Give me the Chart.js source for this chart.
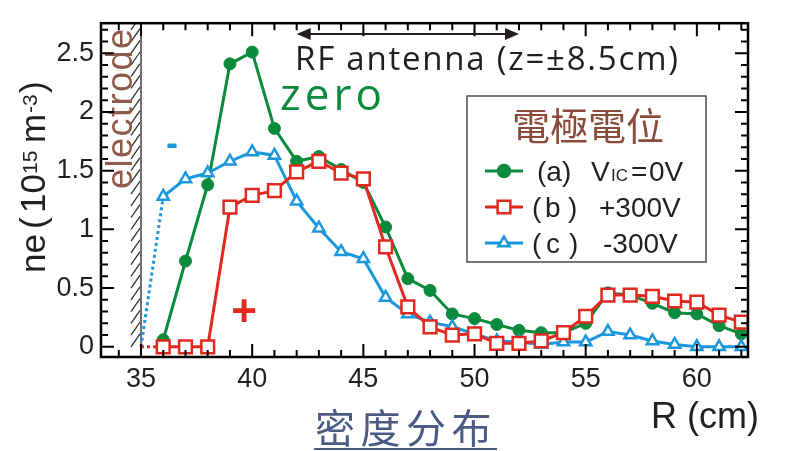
<!DOCTYPE html>
<html>
<head>
<meta charset="utf-8">
<script src="https://cdn.jsdelivr.net/npm/chart.js@4.4.0/dist/chart.umd.min.js"></script>
<style>
  html, body { margin: 0; padding: 0; background: #ffffff; }
  #wrap { width: 791px; height: 451px; position: relative; }
</style>
</head>
<body>
<div id="wrap"><canvas id="c" width="791" height="451"></canvas></div>
<script>
// ---- data ----
const R = [36,37,38,39,40,41,42,43,44,45,46,47,48,49,50,51,52,53,54,55,56,57,58,59,60,61,62];
const neA = [0.06,0.73,1.38,2.41,2.51,1.86,1.58,1.62,1.51,1.40,1.02,0.58,0.48,0.28,0.24,0.19,0.14,0.12,0.12,0.20,0.46,0.44,0.37,0.29,0.28,0.18,0.11];
const neB = [0,0,0,1.19,1.29,1.33,1.49,1.58,1.48,1.43,0.85,0.34,0.17,0.10,0.11,0.03,0.03,0.05,0.12,0.26,0.44,0.44,0.43,0.39,0.38,0.27,0.21];
const neC = [1.28,1.43,1.48,1.58,1.66,1.63,1.24,1.01,0.81,0.75,0.42,0.28,0.21,0.17,0.11,0.05,0.04,0.02,0.04,0.04,0.13,0.10,0.05,0.02,0.0,0.0,0.0];
// dotted links from the electrode (R = 35) to the first measured point
const electrodeR = 35;
const linkB = [[35, 0], [36, 0]];
const linkC = [[35, 0], [36, 1.28]];
const xTickVals = [35, 40, 45, 50, 55, 60];
const yTickVals = [0, 0.5, 1, 1.5, 2, 2.5];
const yTickLabels = ['0', '0.5', '1', '1.5', '2', '2.5'];
const antennaRange = [42, 52];

const GREEN = '#0A8A3C', RED = '#E1291F', BLUE = '#1B97DB';
const TXT = '#231F20';

const toPts = (xs, ys) => xs.map((x, i) => ({x: x, y: ys[i]}));
const pairPts = arr => arr.map(p => ({x: p[0], y: p[1]}));

const legendItems = [
  {color: GREEN, style: 'circle', radius: 6, fill: GREEN},
  {color: RED, style: 'rect', radius: 9, fill: '#ffffff'},
  {color: BLUE, style: 'triangle', radius: 6.5, fill: '#ffffff'}
];

function spacedText(ctx, text, x, y, targetW) {
  const chars = Array.from(text);
  let total = 0;
  const ws = chars.map(c => { const w = ctx.measureText(c).width; total += w; return w; });
  const gap = chars.length > 1 ? (targetW - total) / (chars.length - 1) : 0;
  let cx = x;
  chars.forEach((c, i) => { ctx.fillText(c, cx, y); cx += ws[i] + gap; });
}

const deco = {
  id: 'deco',
  beforeDatasetsDraw(chart) {
    const {ctx, chartArea: a, scales: {x, y}} = chart;
    const ex = x.getPixelForValue(electrodeR);
    ctx.save();
    ctx.beginPath();
    ctx.rect(a.left, a.top, a.right - a.left, a.bottom - a.top);
    ctx.clip();
    // hatching left of the electrode
    ctx.strokeStyle = '#333333';
    ctx.lineWidth = 1.3;
    for (let k = 0; k <= 28; k++) {
      const py = y.getPixelForValue(k / 10);
      ctx.beginPath();
      ctx.moveTo(ex - 1, py - 13);
      ctx.lineTo(ex - 10, py);
      ctx.stroke();
    }
    // electrode surface
    ctx.strokeStyle = '#707070';
    ctx.lineWidth = 2;
    ctx.beginPath();
    ctx.moveTo(ex, a.top);
    ctx.lineTo(ex, a.bottom);
    ctx.stroke();
    ctx.restore();

    // "electrode" label
    ctx.save();
    ctx.fillStyle = '#8E5A4B';
    ctx.font = '36px "Liberation Sans", Arial, sans-serif';
    ctx.textBaseline = 'alphabetic';
    ctx.translate(132, 189);
    ctx.rotate(-Math.PI / 2);
    spacedText(ctx, 'electrode', 0, 0, 160);
    ctx.restore();
  },
  afterDraw(chart) {
    const {ctx, chartArea: a, scales: {x, y}} = chart;
    ctx.save();
    // frame
    ctx.strokeStyle = '#000000';
    ctx.lineWidth = 2.5;
    ctx.strokeRect(a.left, a.top, a.right - a.left, a.bottom - a.top);
    // inward ticks
    ctx.lineWidth = 2;
    for (let i = Math.ceil(x.min); i <= Math.floor(x.max); i++) {
      const px = x.getPixelForValue(i);
      const len = i % 5 === 0 ? 13 : 7;
      ctx.beginPath();
      ctx.moveTo(px, a.bottom); ctx.lineTo(px, a.bottom - len);
      ctx.moveTo(px, a.top); ctx.lineTo(px, a.top + len);
      ctx.stroke();
    }
    for (let k = 0; k <= Math.floor(y.max * 10 + 1e-6); k++) {
      const py = y.getPixelForValue(k / 10);
      const len = k % 5 === 0 ? 13 : 7;
      ctx.beginPath();
      ctx.moveTo(a.left, py); ctx.lineTo(a.left + len, py);
      ctx.moveTo(a.right, py); ctx.lineTo(a.right - len, py);
      ctx.stroke();
    }

    // RF antenna arrow
    const ax1 = x.getPixelForValue(antennaRange[0]);
    const ax2 = x.getPixelForValue(antennaRange[1]);
    const ay = 34;
    ctx.strokeStyle = TXT; ctx.fillStyle = TXT;
    ctx.lineWidth = 2;
    ctx.beginPath(); ctx.moveTo(ax1 + 8, ay); ctx.lineTo(ax2 - 8, ay); ctx.stroke();
    ctx.beginPath(); ctx.moveTo(ax1, ay); ctx.lineTo(ax1 + 14, ay - 6); ctx.lineTo(ax1 + 14, ay + 6); ctx.closePath(); ctx.fill();
    ctx.beginPath(); ctx.moveTo(ax2, ay); ctx.lineTo(ax2 - 14, ay - 6); ctx.lineTo(ax2 - 14, ay + 6); ctx.closePath(); ctx.fill();

    ctx.textAlign = 'left';
    ctx.textBaseline = 'alphabetic';
    ctx.font = '33px "Open Sans", "Noto Sans", sans-serif';
    spacedText(ctx, 'RF antenna (z=±8.5cm)', 295, 70, 383);

    // "zero"
    ctx.fillStyle = GREEN;
    ctx.font = '44px "Open Sans", "Noto Sans", sans-serif';
    spacedText(ctx, 'zero', 280, 110, 102);

    // "-" and "+"
    ctx.fillStyle = BLUE;
    ctx.font = 'bold 36px "Liberation Sans", Arial, sans-serif';
    ctx.textAlign = 'center';
    ctx.textBaseline = 'middle';
    ctx.fillText('-', 172, 145);
    ctx.fillStyle = RED;
    ctx.font = 'bold 44px "Liberation Sans", Arial, sans-serif';
    ctx.fillText('+', 244, 314);

    // y-axis title
    ctx.fillStyle = TXT;
    ctx.textAlign = 'left';
    ctx.textBaseline = 'alphabetic';
    ctx.save();
    ctx.translate(45, 273);
    ctx.rotate(-Math.PI / 2);
    const big = '35px "Liberation Sans", Arial, sans-serif';
    const sm = '21px "Liberation Sans", Arial, sans-serif';
    ctx.font = big; ctx.fillText('ne', 0, 0);
    ctx.fillText('(', 44, 0);
    ctx.fillText('10', 60, 0);
    ctx.font = sm; ctx.fillText('15', 99, -8);
    ctx.font = big; ctx.fillText('m', 130, 0);
    ctx.font = sm; ctx.fillText('-3', 160, -8);
    ctx.font = big; ctx.fillText(')', 180, 0);
    ctx.restore();

    // x-axis title
    ctx.font = '36px "Liberation Sans", Arial, sans-serif';
    ctx.fillText('R (cm)', 651, 428);

    // 密度分布 with underline
    ctx.fillStyle = '#4B5B86';
    ctx.font = '40px "Noto Sans CJK SC", sans-serif';
    ctx.textBaseline = 'middle';
    const cj = Array.from('密度分布');
    cj.forEach((c, i) => ctx.fillText(c, 315 + i * 45.5, 428));
    ctx.strokeStyle = '#4B5B86';
    ctx.lineWidth = 2;
    ctx.beginPath(); ctx.moveTo(314, 449); ctx.lineTo(497, 449); ctx.stroke();

    // legend box
    ctx.strokeStyle = '#4d4d4d';
    ctx.lineWidth = 1.5;
    ctx.strokeRect(467, 96, 239, 166);
    ctx.fillStyle = '#8B4B3B';
    ctx.font = '38px "Noto Sans CJK TC", sans-serif';
    ctx.textAlign = 'center';
    ctx.fillText('電極電位', 588, 126);

    const rowsY = [171, 207, 243];
    legendItems.forEach((it, i) => {
      const ly = rowsY[i];
      ctx.strokeStyle = it.color;
      ctx.lineWidth = 3;
      ctx.beginPath(); ctx.moveTo(485, ly); ctx.lineTo(523, ly); ctx.stroke();
      ctx.fillStyle = it.fill;
      ctx.lineWidth = 2.5;
      Chart.helpers.drawPoint(ctx, {pointStyle: it.style, radius: it.radius, rotation: 0, borderWidth: 2.5}, 504, ly);
    });
    ctx.fillStyle = TXT;
    ctx.textAlign = 'left';
    ctx.textBaseline = 'alphabetic';
    const lf = '28px "Liberation Sans", Arial, sans-serif';
    ctx.font = lf;
    ctx.fillText('(a)', 537, 181);
    ctx.fillText('V', 591, 181);
    ctx.font = '17px "Liberation Sans", Arial, sans-serif';
    ctx.fillText('IC', 611, 181);
    ctx.font = lf;
    ctx.fillText('=', 631, 181);
    ctx.fillText('0V', 649, 181);
    ctx.fillText('(', 532, 217); ctx.fillText('b', 545, 217); ctx.fillText(')', 568, 217);
    ctx.fillText('+300V', 599, 217);
    ctx.fillText('(', 532, 253); ctx.fillText('c', 546, 253); ctx.fillText(')', 569, 253);
    ctx.fillText('-300V', 603, 253);
    ctx.restore();
  }
};

new Chart(document.getElementById('c'), {
  type: 'line',
  data: {
    datasets: [
      { label: '(b) +300V', data: toPts(R, neB), borderColor: RED, backgroundColor: '#ffffff',
        borderWidth: 3, pointStyle: 'rect', pointRadius: 9, pointBorderWidth: 2.5,
        pointBackgroundColor: '#ffffff', pointBorderColor: RED, order: 0 },
      { label: '(c) -300V', data: toPts(R, neC), borderColor: BLUE, backgroundColor: '#ffffff',
        borderWidth: 3, pointStyle: 'triangle', pointRadius: 6.5, pointBorderWidth: 2.5,
        pointBackgroundColor: '#ffffff', pointBorderColor: BLUE, order: 1 },
      { label: '(a) VIC=0V', data: toPts(R, neA), borderColor: GREEN, backgroundColor: GREEN,
        borderWidth: 3, pointStyle: 'circle', pointRadius: 6, pointBorderWidth: 1,
        pointBackgroundColor: GREEN, pointBorderColor: GREEN, order: 2 },
      { label: 'link b', data: pairPts(linkB), borderColor: RED, borderWidth: 3, borderDash: [3, 3],
        pointRadius: 0, order: 3 },
      { label: 'link c', data: pairPts(linkC), borderColor: BLUE, borderWidth: 3, borderDash: [3, 3],
        pointRadius: 0, order: 3 }
    ]
  },
  options: {
    responsive: false,
    animation: false,
    events: [],
    layout: { padding: { left: 0, top: 13, right: 43, bottom: 0 } },
    elements: { line: { tension: 0, fill: false } },
    plugins: { legend: { display: false }, tooltip: { enabled: false }, title: { display: false } },
    scales: {
      x: {
        type: 'linear', min: 33.2, max: 62.3,
        afterBuildTicks: s => { s.ticks = xTickVals.map(v => ({value: v})); },
        afterFit: s => { s.height = 94; },
        grid: { display: false, drawTicks: false },
        border: { display: false },
        ticks: { color: TXT, padding: 6, maxRotation: 0, autoSkip: false,
                 font: { family: '"Liberation Sans", Arial, sans-serif', size: 27 } }
      },
      y: {
        type: 'linear', min: -0.087, max: 2.756,
        afterBuildTicks: s => { s.ticks = yTickVals.map(v => ({value: v})); },
        afterFit: s => { s.width = 101; },
        grid: { display: false, drawTicks: false },
        border: { display: false },
        ticks: { color: TXT, padding: 7, autoSkip: false,
                 callback: (v, i) => yTickLabels[i],
                 font: { family: '"Liberation Sans", Arial, sans-serif', size: 27 } }
      }
    }
  },
  plugins: [deco]
});
</script>
</body>
</html>
